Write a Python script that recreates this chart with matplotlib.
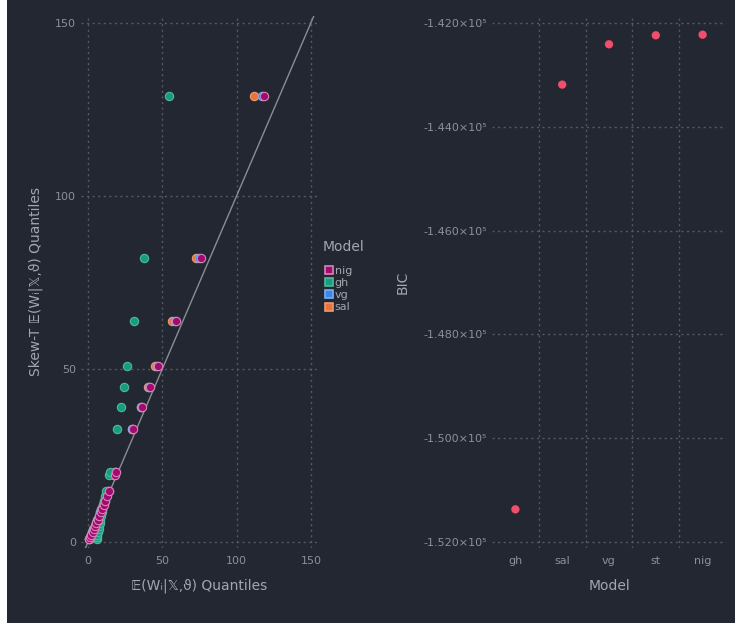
import matplotlib

matplotlib.use("Agg")
import matplotlib.pyplot as plt
from matplotlib.lines import Line2D
from matplotlib.patches import Rectangle
from matplotlib.ticker import FixedLocator, FuncFormatter

# Skew-T quantiles (shared y) and each model's quantiles (x)
skewt_q = [0.9, 1.5, 2.2, 3.0, 3.8, 4.6, 5.5, 6.5, 7.5, 8.6, 9.7, 10.8, 12.0, 13.2,
           14.8, 19.5, 20.2, 32.6, 39.1, 44.8, 50.9, 63.8, 82.1, 128.8]
nig_q = [0.7, 1.5, 2.3, 3.1, 3.9, 4.7, 5.6, 6.6, 7.5, 8.5, 9.5, 10.5, 11.5, 12.5,
         14.3, 18.2, 18.8, 30.3, 36.3, 41.7, 47.3, 59.2, 76.0, 118.4]
gh_q = [5.8, 6.1, 6.4, 6.8, 7.2, 7.6, 8.0, 8.4, 8.8, 9.2, 9.7, 10.2, 10.7, 11.3,
        12.1, 14.3, 14.6, 19.7, 22.0, 24.0, 26.2, 31.2, 37.7, 54.5]
vg_q = [0.6, 1.4, 2.2, 3.0, 3.8, 4.6, 5.5, 6.4, 7.3, 8.3, 9.3, 10.3, 11.3, 12.3,
        14.0, 17.8, 18.4, 29.9, 35.8, 41.1, 46.6, 58.4, 75.0, 117.1]
sal_q = [0.5, 1.3, 2.1, 2.9, 3.7, 4.5, 5.3, 6.2, 7.1, 8.1, 9.0, 10.0, 11.0, 12.0,
         13.7, 17.5, 18.0, 29.6, 35.5, 40.2, 45.3, 56.3, 72.7, 111.7]

# BIC per model
bic_models = ["gh", "sal", "vg", "st", "nig"]
bic_values = [-151371, -143187, -142410, -142237, -142225]

BG = "#232731"
GRID = "#555a64"
TICK = "#8c9098"
LABEL = "#a3a6ad"

# fill, edge per model (legend order)
colors = {
    "nig": ("#a10a6e", "#d785b6"),
    "gh": ("#179c80", "#4fb89e"),
    "vg": ("#3a86ea", "#7aaef0"),
    "sal": ("#e8733c", "#ee9a6e"),
}
series = {"nig": nig_q, "gh": gh_q, "vg": vg_q, "sal": sal_q}

fig = plt.figure(figsize=(7.35, 6.23), dpi=100, facecolor="white")
fig.patches.append(Rectangle((7 / 735, 0), 1, 1, transform=fig.transFigure,
                             facecolor=BG, edgecolor="none", zorder=-10))

ax1 = fig.add_axes([81 / 735, 1 - 548 / 623, 237 / 735, 532 / 623])
ax2 = fig.add_axes([492 / 735, 1 - 548 / 623, 234 / 735, 532 / 623])

for ax in (ax1, ax2):
    ax.set_facecolor(BG)
    for s in ax.spines.values():
        s.set_visible(False)
    ax.tick_params(length=0, colors=TICK, labelsize=8, pad=3.5)
    ax.tick_params(axis="x", pad=6)
    ax.set_axisbelow(True)

# --- left: QQ plot
for name in ["sal", "vg", "gh", "nig"]:
    fc, ec = colors[name]
    ax1.scatter(series[name], skewt_q, s=36, c=fc, edgecolors=ec, linewidths=0.8,
                zorder=3)
ax1.axline((0, 0), slope=1, color="#8a8d94", lw=1, zorder=2)
ax1.set_xlim(-4.7, 154.8)
ax1.set_ylim(-1.7, 152)
ax1.set_xticks([0, 50, 100, 150])
ax1.set_yticks([0, 50, 100, 150])
ax1.grid(True, color=GRID, ls=(0, (1.5, 2.5)), lw=1)
ax1.set_xlabel("𝔼(Wᵢ|𝕏,ϑ) Quantiles", color=LABEL, fontsize=10, labelpad=9)
ax1.set_ylabel("Skew-T 𝔼(Wᵢ|𝕏,ϑ) Quantiles", color=LABEL, fontsize=10, labelpad=9)

fig.text(323 / 735, 1 - 247 / 623, "Model", color=LABEL, fontsize=10,
         ha="left", va="center")
handles = [Line2D([], [], ls="none", marker="s", markersize=6,
                  markerfacecolor=colors[n][0], markeredgecolor=colors[n][1],
                  markeredgewidth=1.2) for n in ["nig", "gh", "vg", "sal"]]
leg = fig.legend(handles, ["nig", "gh", "vg", "sal"],
                 loc="upper left", bbox_to_anchor=(317 / 735, 1 - 258 / 623),
                 frameon=False, fontsize=8,
                 handlelength=0.7, handletextpad=0.2, labelspacing=0.2,
                 borderpad=0.2)
for t in leg.get_texts():
    t.set_color(LABEL)

# --- right: BIC by model
xpos = list(range(1, len(bic_models) + 1))
ax2.scatter(xpos, bic_values, s=36, c="#f24d6b", edgecolors="none", zorder=3)
ax2.set_xlim(0.5, 5.5)
ax2.set_ylim(-152116, -141865)
ax2.set_xticks(xpos)
ax2.set_xticklabels(bic_models)
ax2.xaxis.set_minor_locator(FixedLocator([1.5, 2.5, 3.5, 4.5]))
ax2.tick_params(which="minor", length=0)
ax2.set_yticks([-152000, -150000, -148000, -146000, -144000, -142000])
ax2.yaxis.set_major_formatter(
    FuncFormatter(lambda v, _: f"{v / 1e5:.3f}×10⁵".replace("−", "-")))
ax2.grid(True, axis="y", color=GRID, ls=(0, (1.5, 2.5)), lw=1)
ax2.grid(True, axis="x", which="minor", color=GRID, ls=(0, (1.5, 2.5)), lw=1)
ax2.set_xlabel("Model", color=LABEL, fontsize=10, labelpad=9)
ax2.set_ylabel("BIC", color=LABEL, fontsize=10, labelpad=10)

fig.savefig("out.png", dpi=100, facecolor=fig.get_facecolor())
